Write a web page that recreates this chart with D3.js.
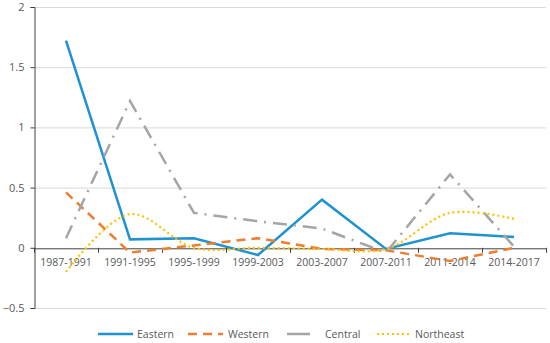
<!DOCTYPE html>
<html>
<head>
<meta charset="utf-8">
<script src="https://cdn.jsdelivr.net/npm/d3@7"></script>
<style>
  body { margin: 0; background: #fff; }
  text { font-family: "Open Sans", "Liberation Sans", sans-serif; fill: #595959; }
</style>
</head>
<body>
<div id="vis"></div>
<script>
const periods = ["1987-1991", "1991-1995", "1995-1999", "1999-2003", "2003-2007", "2007-2011", "2011-2014", "2014-2017"];
const eastern = [1.72, 0.07, 0.08, -0.06, 0.40, -0.01, 0.12, 0.09];
const western = [0.46, -0.04, 0.02, 0.08, -0.01, -0.02, -0.11, 0.00];
const central = [0.08, 1.22, 0.29, 0.22, 0.16, -0.04, 0.61, 0.01];
const northeast = [-0.20, 0.28, 0.00, 0.00, -0.01, -0.01, 0.29, 0.24];
const yTicks = [-0.5, 0, 0.5, 1, 1.5, 2];

const FRAME_WIDTH = 550;
const FRAME_HEIGHT = 343;
const MARGINS = {top: 7, left: 34, right: 4};

const svg = d3.select("#vis")
  .append("svg")
    .attr("width", FRAME_WIDTH)
    .attr("height", FRAME_HEIGHT);

const X_SCALE = d3.scaleBand()
  .domain(periods)
  .range([MARGINS.left, FRAME_WIDTH - MARGINS.right]);

const Y_SCALE = d3.scaleLinear()
  .domain([-0.5, 2])
  .range([308, MARGINS.top]);

// gridlines
svg.append("g")
  .selectAll("line")
  .data(yTicks.filter(d => d !== 0))
  .enter()
  .append("line")
    .attr("x1", MARGINS.left)
    .attr("x2", FRAME_WIDTH - MARGINS.right)
    .attr("y1", d => Y_SCALE(d) + 0.5)
    .attr("y2", d => Y_SCALE(d) + 0.5)
    .attr("stroke", "#d9d9d9")
    .attr("stroke-width", 1);

// y axis
const yAxis = svg.append("g")
  .attr("transform", `translate(${MARGINS.left + 0.5},0)`)
  .call(d3.axisLeft(Y_SCALE).tickValues(yTicks).tickSize(4).tickPadding(6).tickFormat(d3.format("")));
yAxis.select(".domain").attr("stroke", "#404040");
yAxis.selectAll(".tick line").attr("stroke", "#404040");
yAxis.selectAll("text").attr("font-size", 11).attr("fill", "#595959")
  .style("font-family", "'Open Sans', sans-serif");

// x axis on zero line
const xAxis = svg.append("g")
  .attr("transform", `translate(0,${Y_SCALE(0) + 0.5})`)
  .call(d3.axisBottom(X_SCALE).tickSize(0).tickPadding(10));
xAxis.select(".domain").attr("stroke", "#404040");
xAxis.selectAll("text").attr("font-size", 10.5).attr("fill", "#595959")
  .style("font-family", "'Open Sans', sans-serif");

// boundary ticks
svg.append("g")
  .selectAll("line")
  .data(periods.concat(["end"]))
  .enter()
  .append("line")
    .attr("x1", (d, i) => Math.round(MARGINS.left + i * X_SCALE.bandwidth()) + 0.5)
    .attr("x2", (d, i) => Math.round(MARGINS.left + i * X_SCALE.bandwidth()) + 0.5)
    .attr("y1", Y_SCALE(0))
    .attr("y2", Y_SCALE(0) + 5)
    .attr("stroke", "#404040");

const series = [
  {name: "Eastern", values: eastern, color: "#1f93cf", dash: null, legendDash: null, width: 2.5, curve: d3.curveLinear},
  {name: "Western", values: western, color: "#ed7d31", dash: "9,6", legendDash: "9,6", width: 2.5, curve: d3.curveLinear},
  {name: "Central", values: central, color: "#a5a5a5", dash: "14,7,2,7", legendDash: null, width: 2.5, curve: d3.curveLinear},
  {name: "Northeast", values: northeast, color: "#ffc000", dash: "2,3", legendDash: "2,3", width: 2.2, curve: d3.curveCatmullRom}
];

series.forEach(s => {
  const line = d3.line()
    .x((d, i) => X_SCALE(periods[i]) + X_SCALE.bandwidth() / 2)
    .y(d => Y_SCALE(d))
    .curve(s.curve);
  svg.append("path")
    .datum(s.values)
    .attr("d", line)
    .attr("fill", "none")
    .attr("stroke", s.color)
    .attr("stroke-width", s.width)
    .attr("stroke-dasharray", s.dash);
});

// legend
const legendPos = [
  {x1: 98, x2: 133, tx: 137},
  {x1: 188, x2: 223, tx: 228},
  {x1: 287, x2: 310, tx: 325},
  {x1: 377, x2: 411, tx: 415}
];
const legendY = 334;
const legend = svg.append("g");
series.forEach((s, i) => {
  const p = legendPos[i];
  legend.append("line")
    .attr("x1", p.x1).attr("x2", p.x2)
    .attr("y1", legendY).attr("y2", legendY)
    .attr("stroke", s.color)
    .attr("stroke-width", s.width)
    .attr("stroke-dasharray", s.legendDash);
  legend.append("text")
    .attr("x", p.tx)
    .attr("y", legendY + 4)
    .attr("font-size", 10.5)
    .text(s.name);
});
</script>
</body>
</html>
